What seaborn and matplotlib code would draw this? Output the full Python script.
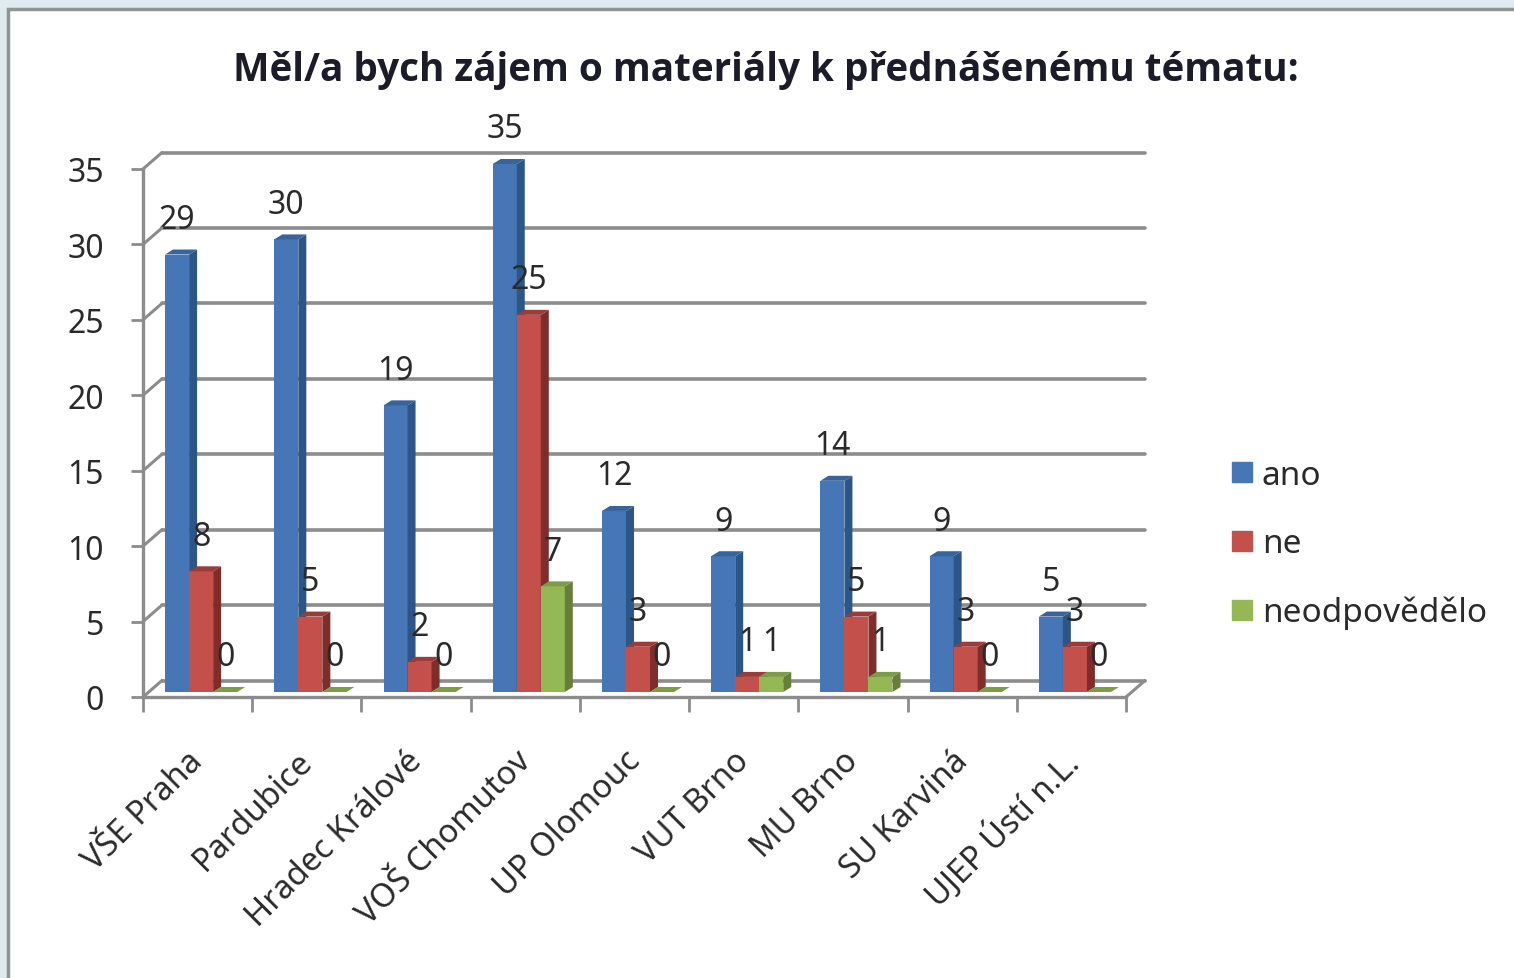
import pandas as pd
import numpy as np
import matplotlib
matplotlib.use('Agg')
import matplotlib.pyplot as plt
from matplotlib.patches import Polygon, Rectangle
from matplotlib.lines import Line2D
import seaborn as sns

# Values
schools = ['VŠE Praha', 'Pardubice', 'Hradec Králové', 'VOŠ Chomutov', 'UP Olomouc',
           'VUT Brno', 'MU Brno', 'SU Karviná', 'UJEP Ústí n.L.']
ano = [29, 30, 19, 35, 12, 9, 14, 9, 5]
ne = [8, 5, 2, 25, 3, 1, 5, 3, 3]
neodpovedelo = [0, 0, 0, 7, 0, 1, 1, 0, 0]
series = ['ano', 'ne', 'neodpovědělo']
y_ticks = [0, 5, 10, 15, 20, 25, 30, 35]

front_colors = ['#4676b6', '#c4504c', '#94b954']
side_colors = ['#2c5688', '#7f2c2a', '#66803c']
top_colors = ['#38639b', '#9c3c39', '#7c9c46']
line_color = '#8c8c8c'
text_color = '#2a2a2a'

df = pd.DataFrame({
    'school': schools * 3,
    'answer': ['ano'] * 9 + ['ne'] * 9 + ['neodpovědělo'] * 9,
    'count': ano + ne + neodpovedelo,
})

W, H = 1514, 979
sns.set_theme(style='white')
plt.rcParams['font.family'] = ['Noto Sans', 'DejaVu Sans']

fig = plt.figure(figsize=(W / 100, H / 100), dpi=100, facecolor='#dfeaf1')


def pixel_axes(left, right, bottom, top):
    # axes placed by pixel position, y measured from the top of the image
    return fig.add_axes([left / W, 1 - bottom / H, (right - left) / W, (bottom - top) / H])


# White chart area with the grey frame on the top and left
fig.add_artist(Rectangle((8 / W, -0.02), 1.1, 1.02 - 10 / H, transform=fig.transFigure,
                         facecolor='white', edgecolor='#8f9494', linewidth=2.5, zorder=-1))

# The chart has three planes: back wall, bars, front axis
x_left, x_right = 146.5, 1129.5
y_zero, y_top = 693, 165
unit_x = (x_right - x_left) / 9
unit_y = (y_zero - y_top) / 35

back = pixel_axes(x_left + 15.5, x_right + 15.5, y_zero - 11.5, y_top - 11.5)
main = pixel_axes(x_left, x_right, y_zero, y_top)
front = pixel_axes(x_left - 3.5, x_right - 3.5, y_zero + 5, y_top + 5)

# Back wall gridlines
back.set_xlim(-0.5, 8.5)
back.set_ylim(0, 35)
back.set_yticks(y_ticks)
back.set_xticks([])
back.tick_params(left=False, labelleft=False)
back.grid(axis='y', color=line_color, linewidth=2.6)
back.patch.set_visible(False)
sns.despine(ax=back, left=True, bottom=True)
for g in back.get_ygridlines():
    g.set_clip_on(False)

# Bars
sns.barplot(data=df, x='school', y='count', hue='answer', hue_order=series, palette=front_colors,
            width=0.66, gap=0, saturation=1, ax=main, legend=False)
main.set_xlim(-0.5, 8.5)
main.set_ylim(0, 35)
main.axis('off')

# Side and top faces give the bars their depth
depth_x = 8 / unit_x
depth_y = 5 / unit_y
for i, bars in enumerate(main.containers):
    for bar in bars:
        x0 = bar.get_x()
        x1 = x0 + bar.get_width()
        h = bar.get_height()
        bar.set_zorder(3 + i)
        bar.set_linewidth(0)
        main.add_patch(Polygon([(x1, 0), (x1 + depth_x, depth_y), (x1 + depth_x, h + depth_y), (x1, h)],
                               facecolor=side_colors[i], linewidth=0, zorder=3 + i, clip_on=False))
        main.add_patch(Polygon([(x0, h), (x0 + depth_x, h + depth_y), (x1 + depth_x, h + depth_y), (x1, h)],
                               facecolor=top_colors[i], linewidth=0, zorder=3 + i, clip_on=False))
        main.annotate(f'{int(h)}', (x0 + bar.get_width() / 2, h), xytext=(0, 35),
                      textcoords='offset pixels', ha='center', va='center', fontsize=23,
                      color=text_color, zorder=10, annotation_clip=False)

# Front axis with ticks and labels
front.set_xlim(-0.5, 8.5)
front.set_ylim(0, 35)
front.patch.set_visible(False)
sns.despine(ax=front, right=True, top=True)
front.spines['left'].set_color(line_color)
front.spines['bottom'].set_color(line_color)
front.spines['left'].set_linewidth(2.4)
front.spines['bottom'].set_linewidth(2.4)
front.set_yticks(y_ticks)
# labels sit a little left of the category centre
front.set_xticks(np.arange(9) - 0.1)
front.set_xticklabels(schools, rotation=45, ha='right', rotation_mode='anchor')
front.set_xticks(np.arange(10) - 0.5, minor=True)
front.tick_params(axis='y', left=True, length=9, width=2, color=line_color, labelsize=23,
                  labelcolor=text_color, pad=19)
front.tick_params(axis='x', which='major', bottom=False, labelsize=23.5, labelcolor=text_color, pad=28)
front.tick_params(axis='x', which='minor', bottom=True, length=11, width=2, color=line_color)

# Diagonals joining the front axis to the back wall
dx = 19 / unit_x
dy = 16.5 / unit_y
for v in y_ticks:
    front.plot([-0.5, -0.5 + dx], [v, v + dy], color=line_color, lw=2.2, clip_on=False)
front.plot([8.5, 8.5 + dx], [0, dy], color=line_color, lw=2.2, clip_on=False)

# Legend
handles = [Line2D([], [], linestyle='none', marker='s', markersize=14.5, color=c) for c in front_colors]
fig.legend(handles, series, loc='center left', bbox_to_anchor=(1200 / W, 1 - 545 / H), frameon=False,
           fontsize=24, labelcolor=text_color, handlelength=0.7, handletextpad=0.25, labelspacing=1.07)

# Title
fig.text(766 / W, 1 - 70 / H, 'Měl/a bych zájem o materiály k přednášenému tématu:', ha='center', va='center',
         fontsize=27.8, fontweight='bold', color='#1c1c28', family=['Open Sans', 'DejaVu Sans'])

fig.savefig('out.png', dpi=100, facecolor=fig.get_facecolor())
